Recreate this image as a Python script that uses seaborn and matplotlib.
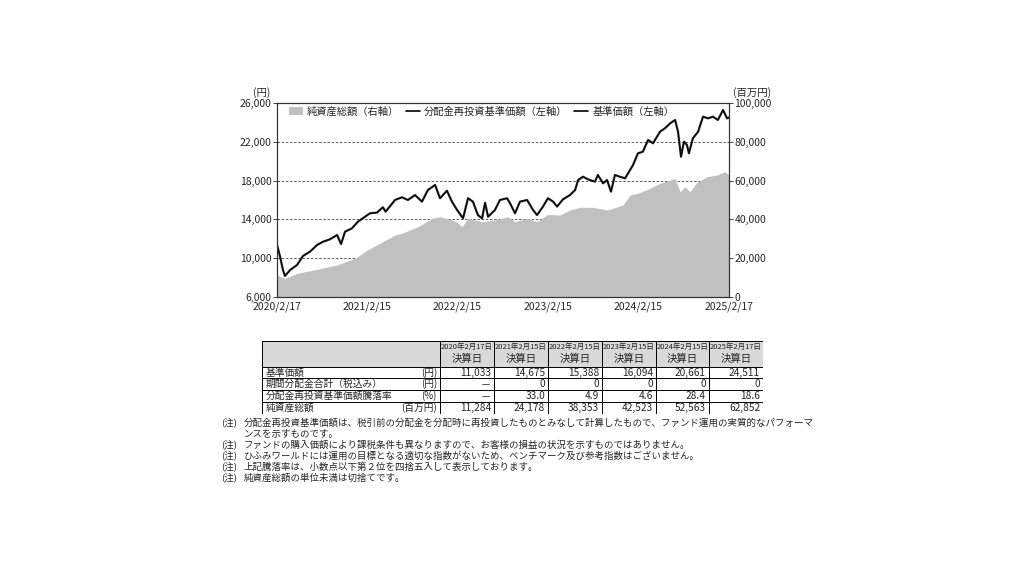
import numpy as np
import pandas as pd
import matplotlib
matplotlib.use("Agg")
import matplotlib.pyplot as plt
import seaborn as sns
from matplotlib.patches import Patch, Rectangle
from matplotlib.lines import Line2D

# ===============================
# データ
# ===============================
price_dates = [
    "2020-02-17", "2020-02-29", "2020-03-12", "2020-03-20", "2020-04-10", "2020-05-08",
    "2020-06-01", "2020-06-29", "2020-07-28", "2020-08-21", "2020-09-18", "2020-10-17",
    "2020-11-02", "2020-11-18", "2020-12-16", "2021-01-09", "2021-02-07", "2021-02-27",
    "2021-03-27", "2021-04-20", "2021-05-01", "2021-06-08", "2021-07-06", "2021-07-30",
    "2021-08-28", "2021-09-25", "2021-10-19", "2021-11-17", "2021-12-07", "2022-01-04",
    "2022-01-24", "2022-02-14", "2022-03-10", "2022-03-30", "2022-04-19", "2022-05-09",
    "2022-05-26", "2022-06-07", "2022-06-19", "2022-07-17", "2022-08-06", "2022-09-04",
    "2022-09-16", "2022-10-06", "2022-10-26", "2022-11-24", "2022-12-18", "2023-01-03",
    "2023-01-27", "2023-02-16", "2023-03-09", "2023-03-25", "2023-04-18", "2023-05-16",
    "2023-06-06", "2023-06-18", "2023-07-08", "2023-07-28", "2023-08-25", "2023-09-06",
    "2023-09-27", "2023-10-13", "2023-10-29", "2023-11-14", "2023-12-04", "2023-12-25",
    "2024-01-06", "2024-01-26", "2024-02-15", "2024-03-06", "2024-03-27", "2024-04-16",
    "2024-05-14", "2024-06-03", "2024-06-24", "2024-07-14", "2024-07-26", "2024-08-07",
    "2024-08-19", "2024-08-31", "2024-09-08", "2024-09-24", "2024-10-15", "2024-11-04",
    "2024-11-24", "2024-12-14", "2025-01-03", "2025-01-24", "2025-02-09", "2025-02-17",
]
price_values = [
    11400, 10200, 8800, 8165, 8780, 9300,
    10230, 10670, 11360, 11700, 11950, 12390,
    11460, 12730, 13080, 13760, 14280, 14630,
    14700, 15250, 14800, 16000, 16280, 16000,
    16510, 15830, 17030, 17550, 16180, 16960,
    15830, 14970, 14110, 16180, 15830, 14450,
    14110, 15720, 14280, 14970, 16000, 16180,
    15660, 14630, 15830, 16000, 14970, 14450,
    15320, 16180, 15830, 15320, 16070, 16510,
    17030, 18060, 18400, 18130, 17890, 18580,
    17720, 18060, 16860, 18580, 18400, 18230,
    18750, 19610, 20810, 20980, 22190, 21850,
    23040, 23390, 23900, 24250, 23040, 20460,
    22020, 21670, 20810, 22360, 23040, 24590,
    24420, 24590, 24250, 25280, 24420, 24511,
]

nav_dates = [
    "2020-02-17", "2020-03-20", "2020-05-08", "2020-07-28", "2020-10-17", "2020-12-28",
    "2021-02-15", "2021-04-08", "2021-06-08", "2021-07-06", "2021-09-09", "2021-11-05",
    "2021-12-07", "2022-01-24", "2022-02-15", "2022-03-06", "2022-03-30", "2022-05-26",
    "2022-07-17", "2022-09-08", "2022-10-06", "2022-11-24", "2023-01-03", "2023-02-15",
    "2023-04-06", "2023-05-16", "2023-06-26", "2023-08-17", "2023-10-13", "2023-11-06",
    "2023-12-17", "2024-01-14", "2024-02-15", "2024-04-04", "2024-05-14", "2024-06-24",
    "2024-07-14", "2024-08-03", "2024-08-23", "2024-09-12", "2024-10-11", "2024-11-20",
    "2024-12-30", "2025-02-01", "2025-02-17",
]
nav_values = [
    11300, 9620, 12200, 14260, 16500, 19930,
    24100, 27670, 31960, 32800, 36250, 40550,
    41400, 39700, 38353, 36250, 40550, 38830,
    39700, 41400, 38830, 40550, 38830, 42523,
    42270, 44850, 46230, 46230, 44850, 45720,
    47420, 52580, 53500, 56030, 58600, 60310,
    61180, 54280, 56860, 54280, 59110, 62010,
    62890, 64590, 62852,
]

xtick_dates = ["2020-02-17", "2021-02-15", "2022-02-15", "2023-02-15", "2024-02-15", "2025-02-17"]
xtick_labels = ["2020/2/17", "2021/2/15", "2022/2/15", "2023/2/15", "2024/2/15", "2025/2/17"]
left_ticks = [6000, 10000, 14000, 18000, 22000, 26000]
right_ticks = [0, 20000, 40000, 60000, 80000, 100000]

legend_labels = ["純資産総額（右軸）", "分配金再投資基準価額（左軸）", "基準価額（左軸）"]

# 表のデータ
table_dates = ["2020年2月17日", "2021年2月15日", "2022年2月15日",
               "2023年2月15日", "2024年2月15日", "2025年2月17日"]
row_names = ["基準価額", "期間分配金合計（税込み）", "分配金再投資基準価額騰落率", "純資産総額"]
row_units = ["(円)", "(円)", "(%)", "(百万円)"]
row_kijun = ["11,033", "14,675", "15,388", "16,094", "20,661", "24,511"]
row_bunpai = ["－", "0", "0", "0", "0", "0"]
row_raku = ["－", "33.0", "4.9", "4.6", "28.4", "18.6"]
row_junshi = ["11,284", "24,178", "38,353", "42,523", "52,563", "62,852"]

notes = [
    "分配金再投資基準価額は、税引前の分配金を分配時に再投資したものとみなして計算したもので、ファンド運用の実質的なパフォーマ",
    "ンスを示すものです。",
    "ファンドの購入価額により課税条件も異なりますので、お客様の損益の状況を示すものではありません。",
    "ひふみワールドには運用の目標となる適切な指数がないため、ベンチマーク及び参考指数はございません。",
    "上記騰落率は、小数点以下第２位を四捨五入して表示しております。",
    "純資産総額の単位未満は切捨てです。",
]

# ===============================
# スタイル
# ===============================
sns.set_style("white")
plt.rcParams["font.family"] = ["Noto Sans CJK JP", "DejaVu Sans"]

W, H = 1024, 576
fig = plt.figure(figsize=(W / 100, H / 100), dpi=100)

def fx(px):
    return px / W

def fy(py):
    return 1 - py / H

df_price = pd.DataFrame({"date": pd.to_datetime(price_dates), "value": price_values})
df_nav = pd.DataFrame({"date": pd.to_datetime(nav_dates), "value": nav_values})

ax = fig.add_axes([fx(277), fy(297), fx(729) - fx(277), fy(103) - fy(297)])
ax2 = ax.twinx()

# 純資産総額 (右軸) - 面グラフ
ax2.fill_between(df_nav["date"], 0, df_nav["value"], color="#c0c0c0", lw=0, zorder=1)
ax2.set_ylim(0, 100000)
ax2.set_yticks(right_ticks)
ax2.set_yticklabels([f"{v:,}" for v in right_ticks], fontsize=7.5)
ax2.set_axisbelow(True)
ax2.grid(axis="y", linestyle=(0, (3, 2)), color="#444444", lw=0.6)
ax2.grid(axis="x", visible=False)

# 基準価額 (左軸)
ax.set_zorder(ax2.get_zorder() + 1)
ax.patch.set_visible(False)
sns.lineplot(data=df_price, x="date", y="value", ax=ax, color="#333333", lw=1.6)
sns.lineplot(data=df_price, x="date", y="value", ax=ax, color="black", lw=0.7)
ax.set_ylim(6000, 26000)
ax.set_yticks(left_ticks)
ax.set_yticklabels([f"{v:,}" for v in left_ticks], fontsize=7.5)
ax.set_xlim(pd.Timestamp("2020-02-17"), pd.Timestamp("2025-02-17"))
ax.set_xticks(pd.to_datetime(xtick_dates))
ax.set_xticklabels(xtick_labels, fontsize=7.5)
ax.set_xlabel("")
ax.set_ylabel("")
ax.grid(False)

ax.tick_params(axis="x", direction="in", length=3, width=0.6, pad=3)
ax.tick_params(axis="y", direction="out", length=3, width=0.6, pad=1)
ax2.tick_params(axis="y", direction="out", length=3, width=0.6, pad=1)
for a in (ax, ax2):
    for s in a.spines.values():
        s.set_color("#333333")
        s.set_linewidth(0.8)

fig.text(fx(262), fy(93), "(円)", fontsize=7.5, ha="center", va="center")
fig.text(fx(752), fy(93), "(百万円)", fontsize=7.5, ha="center", va="center")

handles = [
    Patch(facecolor="#c0c0c0", edgecolor="none"),
    Line2D([], [], color="black", lw=1.2),
    Line2D([], [], color="black", lw=1.2),
]
ax.legend(handles, legend_labels, loc="upper left", bbox_to_anchor=(0.01, 1.02), ncol=3,
          frameon=False, fontsize=7.4, handlelength=1.4, handletextpad=0.4,
          columnspacing=0.6, borderaxespad=0.3)

# ===============================
# 表
# ===============================
tx0, ty0, tx1, ty1 = 262, 341, 763, 414
tax = fig.add_axes([fx(tx0), fy(ty1), fx(tx1) - fx(tx0), fy(ty0) - fy(ty1)])
tax.set_xlim(tx0, tx1)
tax.set_ylim(ty1, ty0)
tax.axis("off")

col_edges = [262, 440, 494, 548, 602, 656, 709, 763]
row_edges = [341, 367, 378, 390, 402, 414]

tax.add_patch(Rectangle((tx0, ty0), tx1 - tx0, row_edges[1] - ty0, facecolor="#d9d9d9",
                        edgecolor="none"))
for yy in row_edges:
    tax.plot([tx0, tx1], [yy, yy], color="black", lw=0.7)
for xx in col_edges:
    tax.plot([xx, xx], [ty0, ty1], color="black", lw=0.7)

for i, d in enumerate(table_dates):
    cx = (col_edges[i + 1] + col_edges[i + 2]) / 2
    tax.text(cx, 347, d, fontsize=5.4, ha="center", va="center")
    tax.text(cx, 359, "決算日", fontsize=7.5, ha="center", va="center")

rows = [row_kijun, row_bunpai, row_raku, row_junshi]
for r, (name, unit, vals) in enumerate(zip(row_names, row_units, rows)):
    cy = (row_edges[r + 1] + row_edges[r + 2]) / 2
    tax.text(266, cy, name, fontsize=7.0, ha="left", va="center")
    tax.text(437, cy, unit, fontsize=7.0, ha="right", va="center")
    for i, v in enumerate(vals):
        tax.text(col_edges[i + 2] - 3, cy, v, fontsize=7.3, ha="right", va="center")

# ===============================
# 注記
# ===============================
note_y = [422, 433, 444, 455, 466, 477]
for i, (yy, txt) in enumerate(zip(note_y, notes)):
    if i != 1:
        fig.text(fx(221), fy(yy + 3.5), "(注)", fontsize=6.8, ha="left", va="baseline")
    fig.text(fx(244), fy(yy + 3.5), txt, fontsize=6.8, ha="left", va="baseline")

fig.savefig("out.png", dpi=100)
